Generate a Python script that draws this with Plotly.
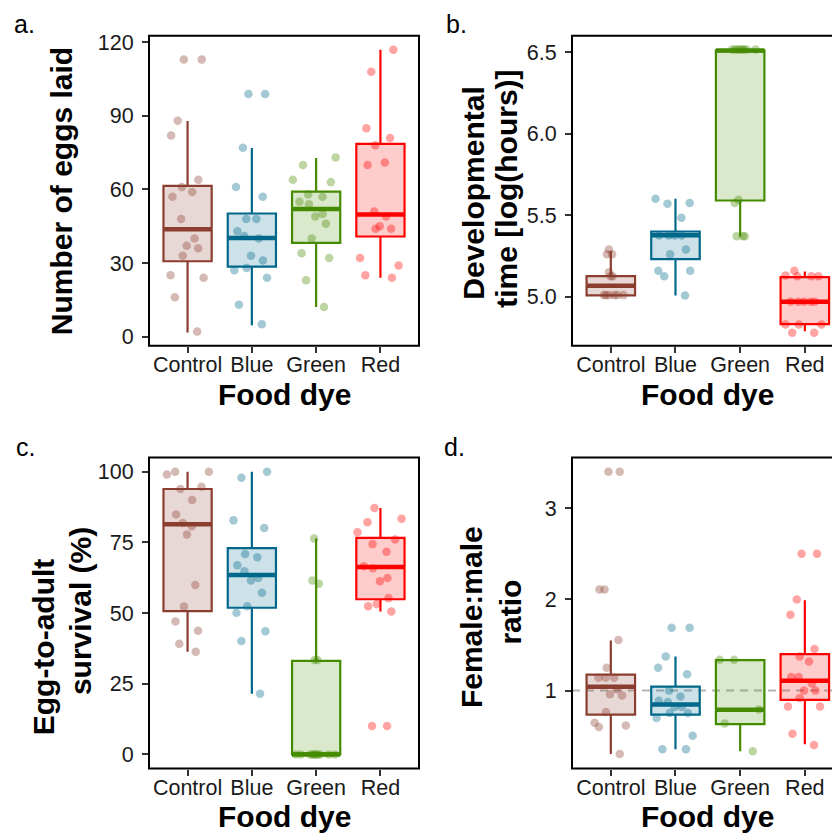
import plotly.graph_objects as go

W, H = 832, 833

categories = ["Control", "Blue", "Green", "Red"]

# ---------------- a. Number of eggs laid ----------------
eggs_control = [113, 113, 88, 82, 64, 61, 59, 57, 48, 40, 37, 36, 33, 25, 24, 16, 2]
eggs_blue = [99, 99, 77, 61, 57, 48, 48, 43, 41, 40, 33, 28, 31, 27, 24, 13, 5]
eggs_green = [73, 70, 64, 63, 58, 57, 54, 55, 50, 49, 46, 40, 34, 32, 23, 12]
eggs_red = [117, 108, 85, 81, 78, 70, 71, 51, 49, 45, 44, 44, 32, 29, 24, 25]
eggs_q1 = [30.7, 28.5, 38.2, 40.8]
eggs_median = [43.8, 40.2, 52.0, 49.8]
eggs_q3 = [61.5, 50.2, 59.1, 78.6]
eggs_lower = [1.6, 4.6, 12.0, 24.0]
eggs_upper = [87.9, 76.9, 72.8, 117.0]

# ---------------- b. Developmental time ----------------
dev_control = [5.26, 5.29, 5.26, 5.15, 5.125, 5.125, 5.01, 5.01, 5.01, 5.01, 5.01, 5.01]
dev_blue = [5.60, 5.575, 5.57, 5.484, 5.375, 5.375, 5.375, 5.375, 5.29, 5.26, 5.16, 5.16, 5.125, 5.008]
dev_green = [6.515, 6.515, 6.515, 6.515, 6.515, 6.515, 6.515, 6.515, 5.595, 5.575, 5.371, 5.371, 5.371]
dev_red = [5.125, 5.125, 5.125, 5.16, 5.13, 4.97, 4.97, 4.97, 4.97, 4.97, 4.83, 4.83, 4.83, 4.78, 4.78]
dev_q1 = [5.008, 5.23, 5.59, 4.832]
dev_median = [5.067, 5.377, 6.51, 4.97]
dev_q3 = [5.127, 5.40, 6.51, 5.12]
dev_lower = [5.008, 5.008, 5.371, 4.788]
dev_upper = [5.28, 5.60, 6.51, 5.155]

# ---------------- c. Egg-to-adult survival ----------------
surv_control = [100, 100, 99, 93.9, 94.7, 90, 84.9, 81.9, 80.7, 77.8, 59.9, 52.3, 47, 43.8, 39.2, 36.3]
surv_blue = [100, 97.9, 82.8, 80.1, 70.9, 69.8, 66.9, 64.8, 62.4, 61.5, 57.2, 52.4, 50.1, 43.6, 40.1, 21.5]
surv_green = [76.4, 61.5, 60.4, 33.4, 33.4, 0, 0, 0, 0, 0, 0, 0, 0, 0, 0]
surv_red = [87.2, 83.4, 82.1, 78.6, 76, 74.4, 71.7, 65.9, 66.6, 62.4, 61.3, 55.3, 53.2, 52.4, 50.6, 10.1, 10.1]
surv_q1 = [50.7, 51.9, 0.0, 54.9]
surv_median = [81.4, 63.5, 0.0, 66.3]
surv_q3 = [93.9, 73.0, 33.1, 76.6]
surv_lower = [36.3, 21.5, 0.0, 50.6]
surv_upper = [100.0, 100.0, 76.4, 87.2]

# ---------------- d. Female:male ratio ----------------
ratio_control = [3.4, 3.4, 2.11, 2.11, 1.555, 1.25, 1.14, 1.14, 1.14, 1.014, 0.946, 0.96, 0.765, 0.647, 0.617, 0.6, 0.304]
ratio_blue = [1.69, 1.69, 1.374, 1.25, 1.18, 0.935, 1.0, 0.888, 0.874, 0.82, 0.82, 0.755, 0.70, 0.755, 0.506, 0.358, 0.358]
ratio_green = [1.338, 1.338, 0.794, 0.639, 0.336]
ratio_red = [2.5, 2.5, 2.0, 1.832, 1.457, 1.374, 1.32, 1.15, 1.15, 1.079, 1.0, 1.0, 0.92, 0.827, 0.827, 0.528, 0.405]
ratio_q1 = [0.736, 0.736, 0.632, 0.898]
ratio_median = [1.043, 0.849, 0.79, 1.108]
ratio_q3 = [1.176, 1.043, 1.335, 1.40]
ratio_lower = [0.304, 0.358, 0.336, 0.412]
ratio_upper = [1.55, 1.374, 1.335, 1.99]
ratio_reference = 1

# tick labels
eggs_ticks = [0, 30, 60, 90, 120]
dev_ticks = [5.0, 5.5, 6.0, 6.5]
surv_ticks = [0, 25, 50, 75, 100]
ratio_ticks = [1, 2, 3]

# ---------------- styling ----------------
line_rgb = [(139, 62, 47), (0, 104, 139), (69, 139, 0), (255, 0, 0)]
FONT = "Liberation Sans, Arial, sans-serif"
BOX_W = 0.75


def rgba(c, a):
    return "rgba(%d,%d,%d,%.3f)" % (c[0], c[1], c[2], a)


def px(x):
    return x / W


def py(y):
    return 1 - y / H


panels = [
    dict(ax="", pts=[eggs_control, eggs_blue, eggs_green, eggs_red],
         st=[eggs_q1, eggs_median, eggs_q3, eggs_lower, eggs_upper],
         ticks=eggs_ticks, fmt="", yr=[-3.75, 122.75],
         xd=[149, 419], yd=[31, 344], xr=[-0.6, 3.6], frame_x1=1.0),
    dict(ax="2", pts=[dev_control, dev_blue, dev_green, dev_red],
         st=[dev_q1, dev_median, dev_q3, dev_lower, dev_upper],
         ticks=dev_ticks, fmt=".1f", yr=[4.70, 6.60],
         xd=[572, 832], yd=[31, 344], xr=[-0.6, 3.42], frame_x1=(843 - 572) / (832 - 572)),
    dict(ax="3", pts=[surv_control, surv_blue, surv_green, surv_red],
         st=[surv_q1, surv_median, surv_q3, surv_lower, surv_upper],
         ticks=surv_ticks, fmt="", yr=[-5, 105],
         xd=[149, 419], yd=[457, 771], xr=[-0.6, 3.6], frame_x1=1.0),
    dict(ax="4", pts=[ratio_control, ratio_blue, ratio_green, ratio_red],
         st=[ratio_q1, ratio_median, ratio_q3, ratio_lower, ratio_upper],
         ticks=ratio_ticks, fmt="", yr=[0.145, 3.555],
         xd=[572, 832], yd=[457, 771], xr=[-0.6, 3.42], frame_x1=(843 - 572) / (832 - 572)),
]

fig = go.Figure()
shapes = []
layout_axes = {}

for p in panels:
    xa, ya = "x" + p["ax"], "y" + p["ax"]
    q1, med, q3, lo, hi = p["st"]
    for i, cat in enumerate(categories):
        c = line_rgb[i]
        fig.add_trace(go.Box(
            x=[i], q1=[q1[i]], median=[med[i]], q3=[q3[i]],
            lowerfence=[lo[i]], upperfence=[hi[i]],
            width=BOX_W, whiskerwidth=0, boxpoints=False,
            fillcolor=rgba(c, 0.2), line=dict(color=rgba(c, 1), width=2.2),
            xaxis=xa, yaxis=ya, showlegend=False, hoverinfo="skip",
        ))
        # thicker median bar
        fig.add_trace(go.Scatter(
            x=[i - BOX_W / 2, i + BOX_W / 2], y=[med[i], med[i]], mode="lines",
            line=dict(color=rgba(c, 1), width=4.5), xaxis=xa, yaxis=ya,
            showlegend=False, hoverinfo="skip",
        ))
    for i, cat in enumerate(categories):
        c = line_rgb[i]
        vals = p["pts"][i]
        fig.add_trace(go.Box(
            x=[i] * len(vals), y=vals, boxpoints="all", jitter=1.0, pointpos=0,
            width=BOX_W, fillcolor="rgba(0,0,0,0)",
            line=dict(color="rgba(0,0,0,0)", width=0),
            marker=dict(color=rgba(c, 0.36), size=8.5, line=dict(width=0)),
            xaxis=xa, yaxis=ya, showlegend=False, name=cat,
        ))
    xname = "xaxis" + p["ax"]
    yname = "yaxis" + p["ax"]
    layout_axes[xname] = dict(
        domain=[px(p["xd"][0]), px(p["xd"][1])], anchor=ya, range=p["xr"],
        tickvals=[0, 1, 2, 3], ticktext=categories, ticks="outside", ticklen=6,
        tickwidth=2, tickcolor="#333333", showgrid=False, zeroline=False,
        showline=False, tickfont=dict(family=FONT, size=21.5, color="#1a1a1a"),
        ticklabelstandoff=-6,
    )
    layout_axes[yname] = dict(
        domain=[py(p["yd"][1]), py(p["yd"][0])], anchor=xa, range=p["yr"],
        tickvals=p["ticks"], tickformat=p["fmt"], ticks="outside", ticklen=6,
        tickwidth=2, tickcolor="#333333", showgrid=False, zeroline=False,
        showline=False, tickfont=dict(family=FONT, size=21.5, color="#1a1a1a"),
        ticklabelstandoff=4,
    )
    shapes.append(dict(type="rect", xref=xa + " domain", yref=ya + " domain",
                       x0=0, x1=p["frame_x1"], y0=0, y1=1,
                       line=dict(color="black", width=2), layer="above"))

# dashed reference line (panel d)
shapes.append(dict(type="line", xref="x4 domain", yref="y4", x0=0, x1=1,
                   y0=ratio_reference, y1=ratio_reference,
                   line=dict(color="#b5b5b5", width=2, dash="8px,6px"), layer="below"))

annotations = []


def ann(text, x, y, size, bold=False, angle=0, xanchor="center", yanchor="middle"):
    annotations.append(dict(
        text=("<b>%s</b>" % text) if bold else text, x=px(x), y=py(y),
        xref="paper", yref="paper", showarrow=False, textangle=angle,
        xanchor=xanchor, yanchor=yanchor,
        font=dict(family=FONT, size=size, color="black"),
    ))


# x titles
for xc, yc in [(284, 393), (707.5, 393), (284, 819), (707.5, 819)]:
    ann("Food dye", xc, yc, 30, bold=True)

# y titles
ann("Number of eggs laid", 61, 188, 30, bold=True, angle=-90)
ann("Developmental", 473.5, 190, 30, bold=True, angle=-90)
ann("time [log(hours)]", 506.5, 186, 30, bold=True, angle=-90)
ann("Egg-to-adult", 43.5, 648, 30, bold=True, angle=-90)
ann("survival (%)", 80, 612, 30, bold=True, angle=-90)
ann("Female:male", 471.5, 617.5, 30, bold=True, angle=-90)
ann("ratio", 511, 613.5, 30, bold=True, angle=-90)

# panel labels
ann("a.", 12, 19.5, 25, xanchor="left")
ann("b.", 444, 19.5, 25, xanchor="left")
ann("c.", 14, 446, 25, xanchor="left")
ann("d.", 442, 446, 25, xanchor="left")

fig.update_layout(
    width=W, height=H, margin=dict(l=0, r=0, t=0, b=0),
    paper_bgcolor="white", plot_bgcolor="white",
    boxmode="overlay", showlegend=False,
    shapes=shapes, annotations=annotations, **layout_axes,
)

fig.write_html(
    "out.html",
    config={"displayModeBar": False},
    post_script="document.body.style.margin='0px';document.body.style.overflow='hidden';",
)
